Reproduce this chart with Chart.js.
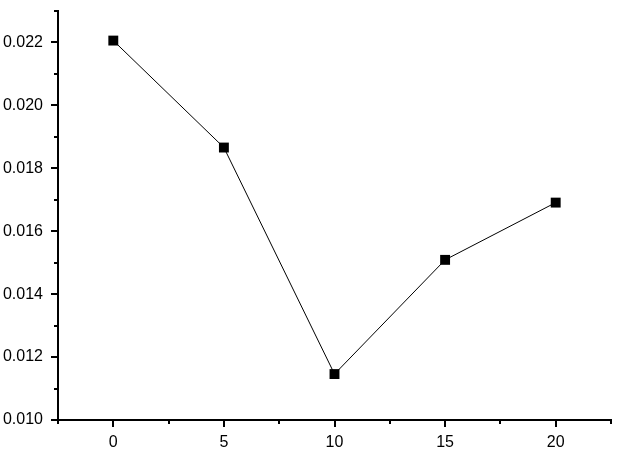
<!DOCTYPE html>
<html>
<head>
<meta charset="utf-8">
<script src="https://cdn.jsdelivr.net/npm/chart.js@4/dist/chart.umd.min.js"></script>
<style>
  html, body { margin: 0; padding: 0; background: #fff; }
  #wrap { width: 618px; height: 454px; }
</style>
</head>
<body>
<div id="wrap"><canvas id="grafico"></canvas></div>
<script>
// datos
const xValues = [0, 5, 10, 15, 20];
const yValues = [0.02206, 0.01866, 0.01146, 0.01509, 0.01691];
const xTickLabels = [0, 5, 10, 15, 20];
const yTickLabels = [0.010, 0.012, 0.014, 0.016, 0.018, 0.020, 0.022];
const xMinorTicks = [-2.5, 2.5, 7.5, 12.5, 17.5, 22.5];
const yMinorTicks = [0.011, 0.013, 0.015, 0.017, 0.019, 0.021, 0.023];

// marcas de los ejes (mayores y menores) dibujadas con las escalas
const marcasEjes = {
  id: 'marcasEjes',
  afterDraw(chart) {
    const ctx = chart.ctx;
    const xs = chart.scales.x, ys = chart.scales.y;
    const area = chart.chartArea;
    ctx.save();
    ctx.strokeStyle = '#000';
    ctx.lineWidth = 2;
    ctx.beginPath();
    xTickLabels.forEach(v => {
      const px = Math.round(xs.getPixelForValue(v));
      ctx.moveTo(px, area.bottom); ctx.lineTo(px, area.bottom + 7);
    });
    xMinorTicks.forEach(v => {
      const px = Math.round(xs.getPixelForValue(v));
      ctx.moveTo(px, area.bottom); ctx.lineTo(px, area.bottom + 4);
    });
    yTickLabels.forEach(v => {
      const py = Math.round(ys.getPixelForValue(v));
      ctx.moveTo(area.left, py); ctx.lineTo(area.left - 7, py);
    });
    yMinorTicks.forEach(v => {
      const py = Math.round(ys.getPixelForValue(v));
      ctx.moveTo(area.left, py); ctx.lineTo(area.left - 4, py);
    });
    ctx.stroke();
    ctx.restore();
  }
};

const ctx = document.getElementById('grafico').getContext('2d');
const grafico = new Chart(ctx, {
  type: 'line',
  data: {
    datasets: [{
      data: xValues.map((x, i) => ({ x: x, y: yValues[i] })),
      borderColor: '#000',
      borderWidth: 1,
      backgroundColor: '#000',
      pointStyle: 'rect',
      pointRadius: 7,
      pointHoverRadius: 7,
      pointBorderWidth: 0,
      tension: 0
    }]
  },
  options: {
    responsive: true,
    maintainAspectRatio: false,
    animation: false,
    layout: { padding: { top: 11, right: 6, left: 0, bottom: 0 } },
    plugins: {
      legend: { display: false },
      tooltip: { enabled: false }
    },
    scales: {
      x: {
        type: 'linear',
        min: -2.5,
        max: 22.5,
        afterBuildTicks: s => { s.ticks = xTickLabels.map(v => ({ value: v })); },
        afterFit: s => { s.height = 34; s.paddingLeft = 0; s.paddingRight = 0; },
        grid: { display: false, drawTicks: false },
        border: { display: true, color: '#000', width: 2 },
        ticks: {
          color: '#000',
          padding: 13,
          maxRotation: 0,
          font: { family: 'Liberation Sans, Arial, sans-serif', size: 16 },
          callback: v => String(v)
        }
      },
      y: {
        min: 0.010,
        max: 0.023,
        afterBuildTicks: s => { s.ticks = yTickLabels.map(v => ({ value: v })); },
        afterFit: s => { s.width = 58; s.paddingTop = 0; s.paddingBottom = 0; },
        grid: { display: false, drawTicks: false },
        border: { display: true, color: '#000', width: 2 },
        ticks: {
          color: '#000',
          padding: 15,
          font: { family: 'Liberation Sans, Arial, sans-serif', size: 16 },
          callback: v => v.toFixed(3)
        }
      }
    }
  },
  plugins: [marcasEjes]
});
</script>
</body>
</html>
